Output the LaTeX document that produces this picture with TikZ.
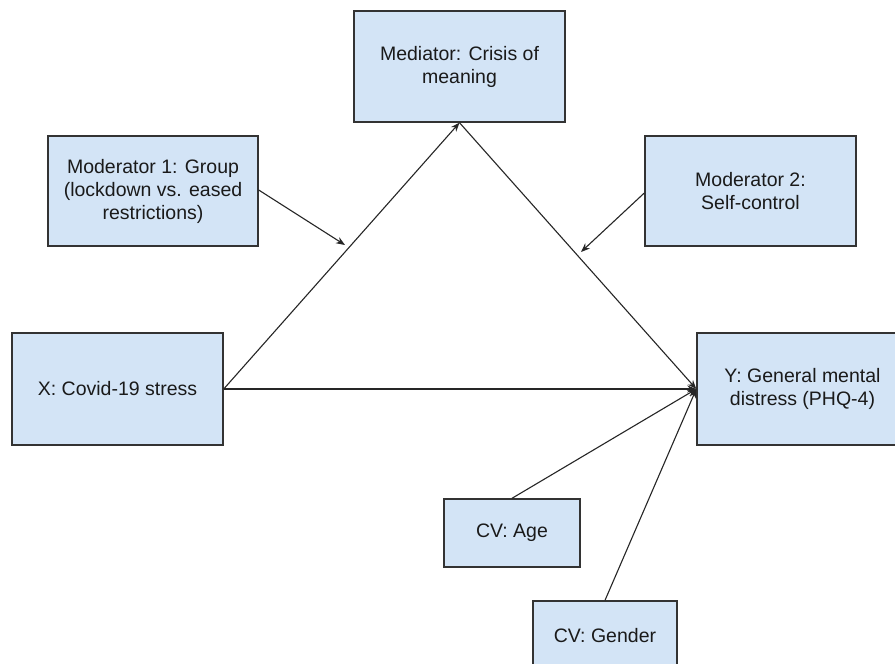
\documentclass[tikz,border=0pt]{standalone}
\usepackage{fontspec}
\setmainfont{Liberation Sans}
\usetikzlibrary{arrows.meta}
\definecolor{boxfill}{HTML}{D3E4F6}
\definecolor{boxline}{HTML}{333333}
\definecolor{txt}{HTML}{1A1A1A}
\tikzset{
  box/.style={draw=boxline, line width=1.4pt, fill=boxfill, rectangle,
    inner sep=0pt, align=center, text=txt,
    font=\fontsize{19.5}{23}\selectfont},
  conn/.style={draw=black!85, line width=1.1pt,
    -{Stealth[length=9pt,width=7pt]}},
  plain/.style={draw=black!85, line width=1.1pt}
}
\begin{document}
\begin{tikzpicture}[x=1pt,y=-1pt]
\useasboundingbox (0,0) rectangle (895,664);
\clip (0,0) rectangle (895,664);
\fill[white] (0,0) rectangle (895,664);
\node[box, minimum width=211pt, minimum height=111pt] (med) at (459.5,66.5) {Mediator: Crisis of\\meaning};
\node[box, minimum width=210pt, minimum height=110pt] (mod1) at (153,191) {Moderator 1: Group\\(lockdown vs. eased\\restrictions)};
\node[box, minimum width=211pt, minimum height=110pt] (mod2) at (750.5,191) {Moderator 2:\\Self-control};
\node[box, minimum width=211pt, minimum height=112pt] (x) at (117.5,389) {X: Covid-19 stress};
\node[box, minimum width=211pt, minimum height=112pt] (y) at (802.5,389) {Y: General mental\\distress (PHQ-4)};
\node[box, minimum width=136pt, minimum height=68pt] (age) at (512,533) {CV: Age};
\node[box, minimum width=144pt, minimum height=70pt] (gen) at (605,636) {CV: Gender};
\coordinate (m1tip) at (345,245);
\coordinate (m2tip) at (581,252);
\draw[conn] (x.east) -- (med.south);
\draw[conn] (med.south) -- (y.west);
\draw[conn] (x.east) -- (y.west);
\draw[conn] (age.north) -- (y.west);
\draw[conn] (gen.north) -- (y.west);
\draw[conn] (mod1.east |- 0,190) -- (m1tip);
\draw[conn] (mod2.west |- 0,193) -- (m2tip);
\end{tikzpicture}
\end{document}
